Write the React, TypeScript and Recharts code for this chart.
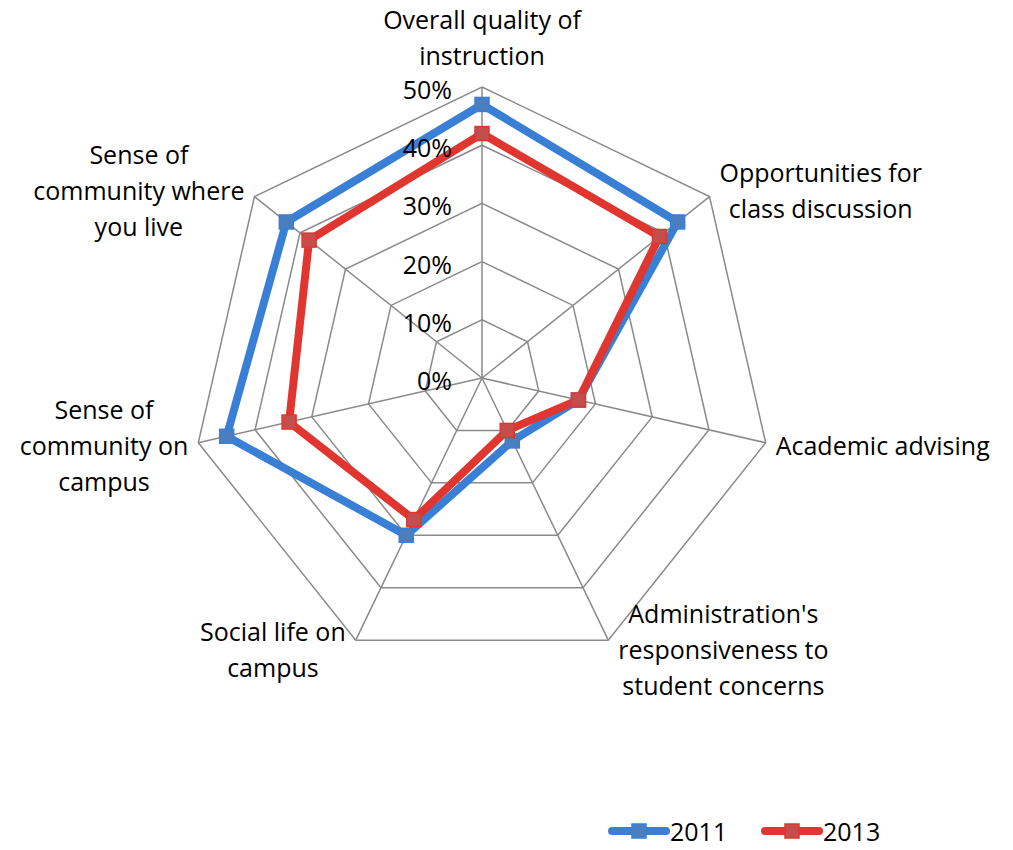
import React from "react";
import {
  RadarChart,
  Radar,
  PolarGrid,
  PolarAngleAxis,
  PolarRadiusAxis,
  Legend,
} from "recharts";

const categories = [
  "Overall quality of instruction",
  "Opportunities for class discussion",
  "Academic advising",
  "Administration's responsiveness to student concerns",
  "Social life on campus",
  "Sense of community on campus",
  "Sense of community where you live",
];
const categoryLines = [
  ["Overall quality of", "instruction"],
  ["Opportunities for", "class discussion"],
  ["Academic advising"],
  ["Administration's", "responsiveness to", "student concerns"],
  ["Social life on", "campus"],
  ["Sense of", "community on", "campus"],
  ["Sense of", "community where", "you live"],
];
// percent
const values2011 = [47, 43, 17, 12, 30, 45, 43];
const values2013 = [42, 39, 17, 10, 27, 34, 38];
const radiusTicks = [0, 10, 20, 30, 40, 50];

const data = categories.map((name, i) => ({ name, y2011: values2011[i], y2013: values2013[i] }));

const W = 1013;
const H = 850;
const CX = 482;
const CY = 378;
const R = 291;
const FONT = "'Open Sans', Lato, sans-serif";
const FS = 25;
const LINE_H = 36;

const BLUE = "#3a7fd6";
const BLUE_DOT = "#4a7ebf";
const RED = "#e0362f";
const RED_DOT = "#c44e4c";

let ctx: CanvasRenderingContext2D | null = null;
function textWidth(s: string) {
  if (!ctx) ctx = document.createElement("canvas").getContext("2d");
  if (!ctx) return s.length * FS * 0.5;
  ctx.font = `${FS}px ${FONT}`;
  return ctx.measureText(s).width;
}

function AngleTick(props: any) {
  const i = props.index;
  const lines = categoryLines[i];
  const a = Math.PI / 2 - (i * 2 * Math.PI) / categories.length;
  const cos = Math.cos(a);
  const sin = -Math.sin(a);
  const vx = CX + R * cos;
  const vy = CY + R * sin;
  const w = Math.max(...lines.map(textWidth));
  const h = lines.length * LINE_H;
  let bx = vx;
  let by = vy;
  if (Math.abs(cos) < 0.2) {
    by = vy - 14 - h / 2;
  } else {
    const s = cos > 0 ? 1 : -1;
    bx = vx + s * (10 + w / 2);
    by = vy + 10 * sin;
  }
  return (
    <g>
      {lines.map((l, k) => (
        <text
          key={k}
          x={bx}
          y={by + (k - (lines.length - 1) / 2) * LINE_H}
          textAnchor="middle"
          dominantBaseline="central"
          fontFamily={FONT}
          fontSize={FS}
          fill="#000"
        >
          {l}
        </text>
      ))}
    </g>
  );
}

function RadiusTick(props: any) {
  const { y, payload } = props;
  return (
    <text x={CX - 30} y={y + 2} textAnchor="end" dominantBaseline="central" fontFamily={FONT} fontSize={FS} fill="#000">
      {payload.value}%
    </text>
  );
}

function squareDot(fill: string, stroke: string) {
  return (p: any) => (
    <rect key={`${p.cx}-${p.cy}`} x={p.cx - 7} y={p.cy - 7} width={14} height={14} fill={fill} stroke={stroke} strokeWidth={1.5} />
  );
}

const legendItems = [
  { label: "2011", line: BLUE, dot: BLUE_DOT },
  { label: "2013", line: RED, dot: RED_DOT },
];

function LegendContent() {
  return (
    <svg width={300} height={32} style={{ overflow: "visible", display: "block" }}>
      {legendItems.map((it, i) => {
        const x0 = i * 153;
        return (
          <g key={it.label}>
            <line x1={x0 + 4} x2={x0 + 58} y1={15} y2={15} stroke={it.line} strokeWidth={8} strokeLinecap="round" />
            <rect x={x0 + 24} y={8} width={14} height={14} fill={it.dot} stroke={it.line} strokeWidth={1.5} />
            <text x={x0 + 62} y={15} dominantBaseline="central" fontFamily={FONT} fontSize={FS} fill="#000">
              {it.label}
            </text>
          </g>
        );
      })}
    </svg>
  );
}

export default function App() {
  return (
    <div style={{ position: "absolute", left: 0, top: 0, width: W, height: H, background: "#fff" }}>
      <RadarChart width={W} height={H} data={data} cx={CX} cy={CY} outerRadius={R} margin={{ top: 0, right: 0, bottom: 0, left: 0 }}>
        <PolarGrid gridType="polygon" stroke="#8a8a8a" strokeWidth={1.5} />
        <PolarAngleAxis dataKey="name" tick={<AngleTick />} axisLine={false} tickLine={false} />
        <PolarRadiusAxis
          type="number"
          angle={90}
          domain={[0, 50]}
          allowDataOverflow
          ticks={radiusTicks}
          tickCount={6}
          tick={<RadiusTick />}
          axisLine={false}
          tickLine={false}
        />
        <Radar
          name="2011"
          dataKey="y2011"
          stroke={BLUE}
          strokeWidth={8}
          fill="none"
          fillOpacity={0}
          dot={squareDot(BLUE_DOT, BLUE)}
          isAnimationActive={false}
        />
        <Radar
          name="2013"
          dataKey="y2013"
          stroke={RED}
          strokeWidth={8}
          fill="none"
          fillOpacity={0}
          dot={squareDot(RED_DOT, RED)}
          isAnimationActive={false}
        />
        <Legend content={<LegendContent />} wrapperStyle={{ position: "absolute", left: 608, top: 816, width: 300, bottom: "auto" }} />
      </RadarChart>
    </div>
  );
}
